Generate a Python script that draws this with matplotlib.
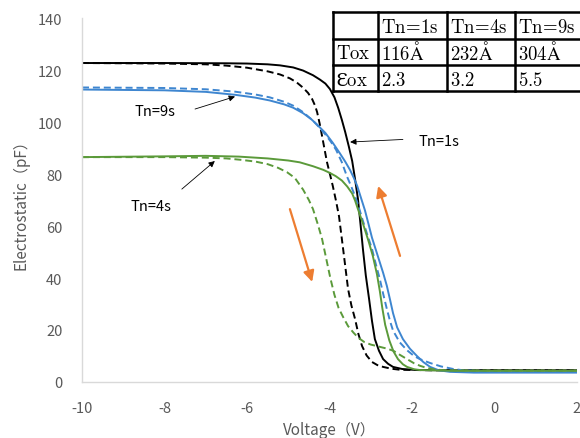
import matplotlib
matplotlib.use("Agg")
import matplotlib.pyplot as plt
from matplotlib.patches import Rectangle

plt.rcParams['font.family'] = ['Noto Sans CJK JP', 'DejaVu Sans']
plt.rcParams['mathtext.fontset'] = 'cm'
plt.rcParams['axes.unicode_minus'] = False

# ---- data ----
# Tn=1s, solid (black)
v1s = [-10, -8, -6.5, -6.0, -5.5, -5.2, -4.88, -4.64, -4.4, -4.23, -4.1, -3.99, -3.88, -3.79, -3.7,
       -3.62, -3.53, -3.45, -3.38, -3.31, -3.25, -3.19, -3.12, -3.04, -2.97, -2.9, -2.8, -2.7,
       -2.58, -2.46, -2.24, -1.9, -1.0, 0, 2]
c1s = [122.7, 122.7, 122.6, 122.5, 122.2, 121.8, 121.0, 119.8, 118.0, 116.3, 114.8, 112.7, 109.5,
       105.5, 100.8, 96.2, 90.5, 85.0, 78.0, 70.4, 61.0, 51.2, 41.0, 31.9, 23.5, 16.5, 12.0, 8.8,
       7.0, 5.8, 5.0, 4.6, 4.5, 4.5, 4.5]
# Tn=1s, dashed (black)
v1d = [-10, -8, -7, -6.5, -6.0, -5.5, -5.2, -4.96, -4.8, -4.64, -4.52, -4.42, -4.35, -4.3, -4.24,
       -4.18, -4.12, -4.06, -3.99, -3.92, -3.84, -3.77, -3.72, -3.67, -3.61, -3.55, -3.47, -3.38,
       -3.3, -3.21, -3.1, -2.97, -2.84, -2.7, -2.5, -2.29, -1.5, 0, 2]
c1d = [122.7, 122.5, 122.2, 121.7, 120.9, 119.5, 118.3, 116.8, 115.3, 113.2, 111.2, 108.8, 106.3,
       103.8, 99.5, 94.6, 89.5, 84.5, 80.0, 75.4, 69.5, 63.8, 57.5, 51.2, 43.5, 35.8, 29.5, 24.2,
       18.5, 13.8, 10.2, 7.7, 6.5, 5.8, 5.1, 4.7, 4.5, 4.5, 4.5]
# Tn=9s, solid (blue)
v9s = [-10, -8, -7, -6.3, -5.8, -5.45, -5.1, -4.88, -4.64, -4.45, -4.3, -4.1, -3.92, -3.75, -3.62,
       -3.5, -3.41, -3.33, -3.24, -3.14, -3.05, -2.97, -2.88, -2.78, -2.7, -2.61, -2.53, -2.46,
       -2.36, -2.22, -2.05, -1.88, -1.72, -1.56, -1.35, -1.08, -0.5, 2]
c9s = [112.5, 112.2, 111.6, 110.5, 109.4, 108.3, 106.8, 105.5, 103.4, 101.2, 99.0, 95.8, 92.0, 88.0,
       84.8, 81.5, 78.5, 75.5, 71.0, 66.0, 60.5, 55.5, 51.0, 46.0, 42.0, 37.0, 31.5, 26.5, 21.0,
       16.5, 12.8, 10.0, 7.6, 5.8, 4.5, 3.9, 3.6, 3.6]
# Tn=9s, dashed (blue)
v9d = [-10, -8, -7, -6.3, -5.8, -5.45, -5.1, -4.88, -4.64, -4.4, -4.25, -4.1, -3.97, -3.84, -3.7,
       -3.58, -3.48, -3.38, -3.3, -3.21, -3.07, -2.97, -2.88, -2.78, -2.7, -2.61, -2.53, -2.46,
       -2.3, -2.12, -1.95, -1.81, -1.56, -1.3, -1.0, -0.76, 0, 2]
c9d = [113.3, 113.1, 112.6, 111.7, 110.6, 109.5, 107.8, 106.3, 103.8, 100.5, 98.0, 95.2, 92.5, 89.3,
       84.5, 79.2, 75.5, 71.5, 67.8, 63.0, 56.0, 51.2, 45.5, 39.6, 34.0, 28.1, 23.3, 19.8, 15.3,
       12.2, 10.0, 8.8, 7.3, 6.0, 5.0, 4.5, 4.1, 3.9]
# Tn=4s, solid (green)
v4s = [-10, -8, -7, -6.2, -5.5, -5.0, -4.72, -4.4, -4.15, -4.0, -3.85, -3.7, -3.57, -3.45, -3.38,
       -3.31, -3.19, -3.05, -2.95, -2.85, -2.78, -2.72, -2.65, -2.55, -2.45, -2.34, -2.22, -2.12,
       -1.95, -1.81, -1.0, 0, 2]
c4s = [86.5, 86.8, 87.0, 86.7, 86.0, 85.2, 84.5, 83.0, 81.6, 80.5, 79.2, 77.5, 75.2, 72.5, 69.8,
       66.5, 61.0, 54.0, 48.5, 41.5, 35.0, 28.5, 22.0, 16.0, 11.8, 8.8, 6.8, 5.8, 4.9, 4.6, 4.3,
       4.3, 4.3]
# Tn=4s, dashed (green)
v4d = [-10, -8, -7, -6.5, -6.17, -5.8, -5.5, -5.25, -5.03, -4.84, -4.64, -4.5, -4.4, -4.28, -4.18,
       -4.08, -3.98, -3.88, -3.78, -3.67, -3.55, -3.42, -3.3, -3.15, -3.0, -2.8, -2.6, -2.45,
       -2.3, -2.12, -1.95, -1.8, -1.64, -1.45, -1.2, 0, 2]
c4d = [86.5, 86.5, 86.3, 86.0, 85.5, 84.8, 83.8, 82.4, 80.7, 78.5, 74.0, 70.0, 66.5, 60.5, 55.0,
       47.5, 40.0, 33.5, 28.5, 25.0, 21.5, 19.0, 17.0, 15.3, 14.4, 13.6, 12.8, 12.0, 10.5, 8.8,
       7.2, 6.2, 5.4, 4.8, 4.5, 4.4, 4.4]

x_ticks = [-10, -8, -6, -4, -2, 0, 2]
y_ticks = [0, 20, 40, 60, 80, 100, 120, 140]

# table content: header row, Tox row, Ɛox row
table_tex = [["", r"$\mathrm{Tn}\!=\!\mathrm{1s}$", r"$\mathrm{Tn}\!=\!\mathrm{4s}$", r"$\mathrm{Tn}\!=\!\mathrm{9s}$"],
             [r"$\mathrm{Tox}$", r"$\mathrm{116\AA}$", r"$\mathrm{232\AA}$", r"$\mathrm{304\AA}$"],
             [r"$\mathrm{Ɛox}$", r"$\mathrm{2.3}$", r"$\mathrm{3.2}$", r"$\mathrm{5.5}$"]]

# annotation labels: (text, text pos, arrow tail, arrow head)
labels = [("Tn=9s", (-8.23, 104.2), (-7.26, 105.0), (-6.29, 109.8)),
          ("Tn=4s", (-8.33, 67.7), (-7.58, 74.2), (-6.78, 85.0)),
          ("Tn=1s", (-1.85, 92.7), (-2.22, 93.3), (-3.50, 92.3))]
orange_arrows = [((-4.96, 66.5), (-4.42, 38.5)),
                 ((-2.29, 48.5), (-2.82, 75.4))]

BLACK = "#000000"
BLUE = "#3E86D0"
GREEN = "#5B9A3A"
ORANGE = "#ED7D31"

fig = plt.figure(figsize=(5.8, 4.39), dpi=100)
ax = fig.add_axes([0.1414, 0.1276, 0.8534, 0.829])

lw = 1.4
dash = (3.6, 2.0)
ax.plot(v1s, c1s, color=BLACK, lw=lw)
ax.plot(v1d, c1d, color=BLACK, lw=lw, dashes=dash)
ax.plot(v9s, c9s, color=BLUE, lw=lw)
ax.plot(v9d, c9d, color=BLUE, lw=lw, dashes=dash)
ax.plot(v4s, c4s, color=GREEN, lw=lw)
ax.plot(v4d, c4d, color=GREEN, lw=lw, dashes=dash)

for txt, tpos, tail, head in labels:
    ax.text(tpos[0], tpos[1], txt, fontsize=10.5, ha='center' if txt != "Tn=1s" else 'left',
            va='center', color='black')
    ax.annotate('', xy=head, xytext=tail,
                arrowprops=dict(arrowstyle='-|>', color='black', lw=0.6, mutation_scale=9,
                                shrinkA=0, shrinkB=0))

for tail, head in orange_arrows:
    ax.annotate('', xy=head, xytext=tail,
                arrowprops=dict(arrowstyle='-|>', color=ORANGE, lw=1.6, mutation_scale=16,
                                shrinkA=0, shrinkB=0))

ax.set_xlim(-10, 2)
ax.set_ylim(0, 140)
ax.set_xticks(x_ticks)
ax.set_yticks(y_ticks)
ax.tick_params(length=0, labelsize=10.5, labelcolor='#595959')
ax.tick_params(axis='x', pad=14)
ax.tick_params(axis='y', pad=14)
for s in ['top', 'right']:
    ax.spines[s].set_visible(False)
for s in ['left', 'bottom']:
    ax.spines[s].set_color('#D9D9D9')
    ax.spines[s].set_linewidth(1.0)
ax.set_xlabel("Voltage（V）", fontsize=11, color='#595959', labelpad=4)
ax.set_ylabel("Electrostatic（pF）", fontsize=11, color='#595959', labelpad=6)

# table overlay in pixel coordinates
tax = fig.add_axes([0, 0, 1, 1], zorder=5)
tax.set_xlim(0, 580)
tax.set_ylim(439, 0)
tax.axis('off')
col_edges = [333, 378, 447, 515, 584]
row_edges = [13, 39.5, 66, 92]
tax.add_patch(Rectangle((col_edges[0], row_edges[0]), col_edges[-1] - col_edges[0],
                        row_edges[-1] - row_edges[0], facecolor='white', edgecolor='none'))
for xe in col_edges:
    tax.plot([xe, xe], [row_edges[0], row_edges[-1]], color='black', lw=1.8, solid_capstyle='projecting')
for ye in row_edges:
    tax.plot([col_edges[0], col_edges[-1]], [ye, ye], color='black', lw=1.8, solid_capstyle='projecting')
for i, row in enumerate(table_tex):
    for j, cell in enumerate(row):
        if cell:
            tax.text(col_edges[j] + 3, (row_edges[i] + row_edges[i + 1]) / 2 + 1, cell,
                     fontsize=13.5, ha='left', va='center', color='black')

fig.savefig("out.png", dpi=100)
